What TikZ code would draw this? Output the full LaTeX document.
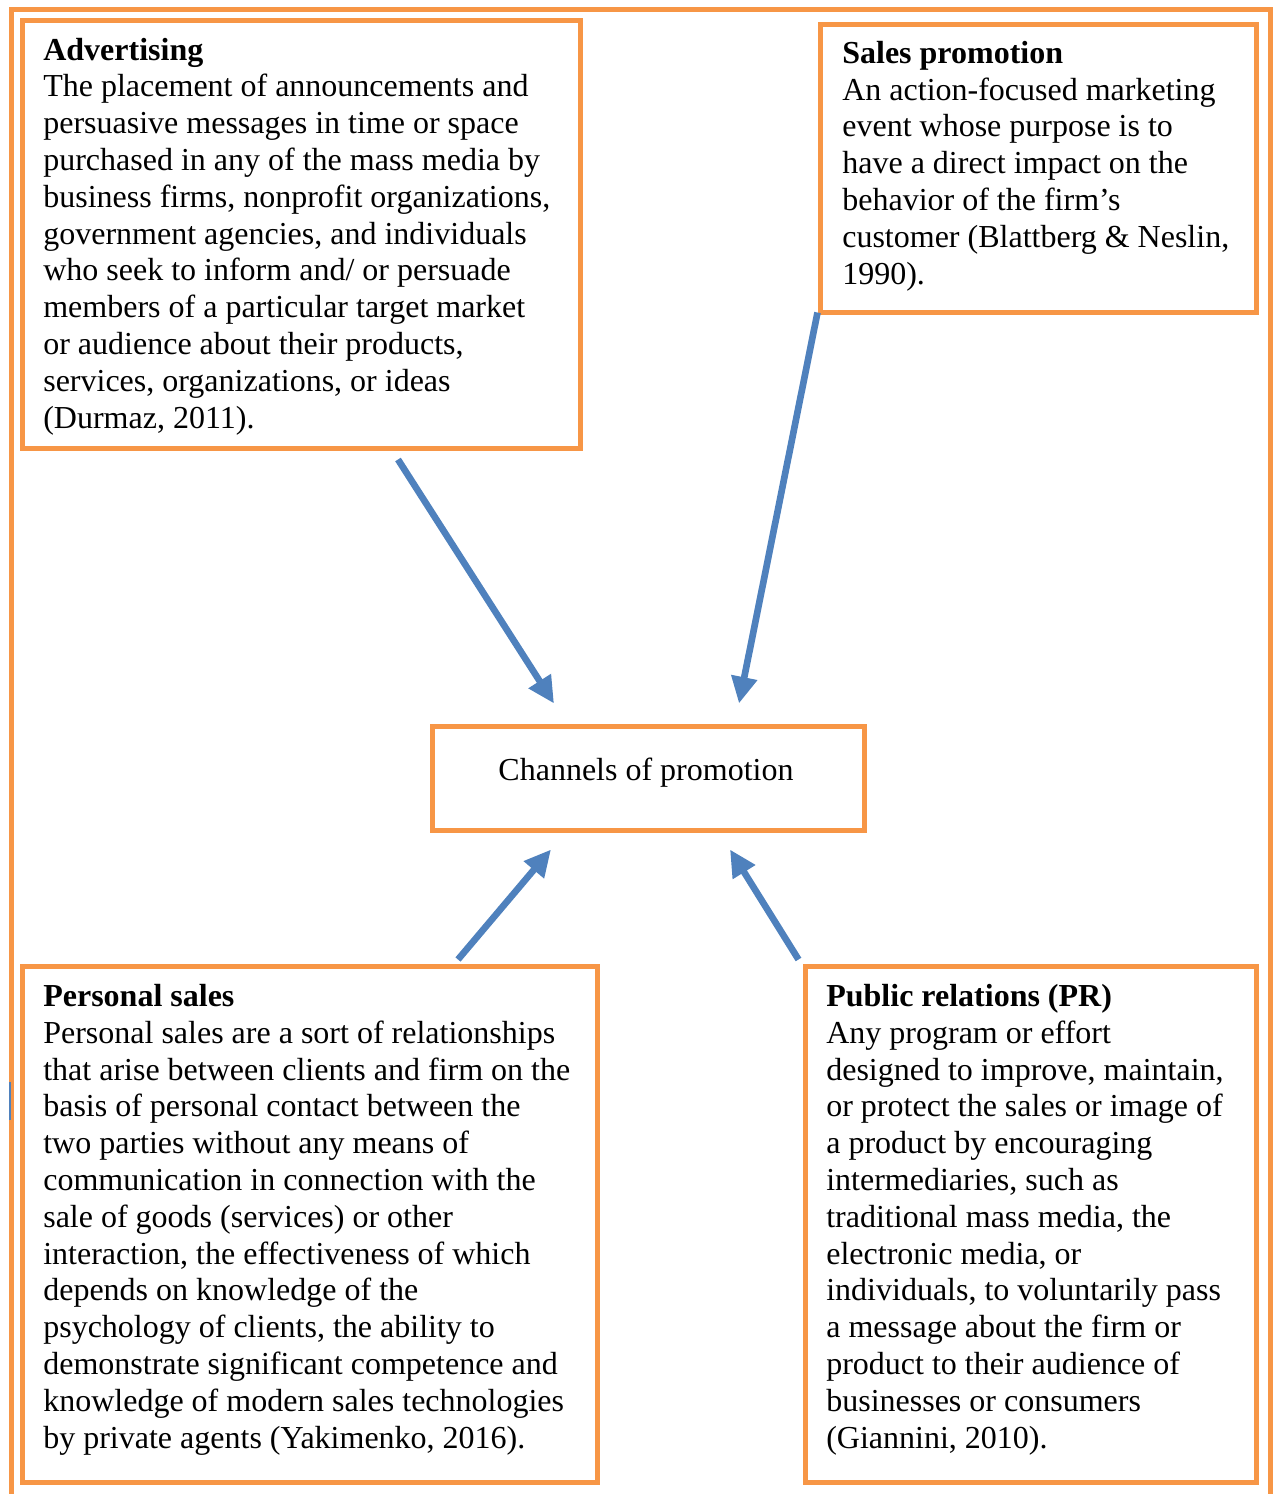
\documentclass[tikz,border=0pt]{standalone}
\usepackage{fontspec}
\setmainfont{Liberation Serif}
\usetikzlibrary{arrows.meta,calc}
\definecolor{boxorange}{HTML}{F79646}
\definecolor{arrowblue}{HTML}{4F81BD}
\newdimen\pxu \pxu=0.6pt
\begin{document}
\begin{tikzpicture}[x=0.6pt,y=-0.6pt,
  box/.style={draw=boxorange,line width=3pt,rectangle,inner sep=0pt,fill=white},
  txt/.style={anchor=base west,align=left,inner sep=0pt,font=\fontsize{19.2}{22.08}\selectfont},
  conn/.style={draw=arrowblue,line width=4pt,-{Triangle[length=16pt,width=15pt]}}]
\useasboundingbox (0,0) rectangle (1275,1494);
% outer frame
\draw[boxorange,line width=3pt] (11,1494) -- (11,9) -- (1270,9) -- (1270,1494);
\draw[arrowblue,line width=1pt] (10,1082) -- (10,1120);
% boxes
\node[box,minimum width=558\pxu,minimum height=428\pxu] (adv) at (301,234) {};
\node[box,minimum width=436\pxu,minimum height=288\pxu] (sp) at (1038,168) {};
\node[box,minimum width=432\pxu,minimum height=104\pxu] (chan) at (648,778) {};
\node[box,minimum width=575\pxu,minimum height=516\pxu] (ps) at (309.5,1224) {};
\node[box,minimum width=451\pxu,minimum height=516\pxu] (pr) at (1030.5,1224) {};
% texts (anchored at the baseline of the last line)
\node[txt] (advtxt) at (43,428) {\textbf{Advertising}\\
The placement of announcements and\\
persuasive messages in time or space\\
purchased in any of the mass media by\\
business firms, nonprofit organizations,\\
government agencies, and individuals\\
who seek to inform and/ or persuade\\
members of a particular target market\\
or audience about their products,\\
services, organizations, or ideas\\
(Durmaz, 2011).};
\node[txt] (sptxt) at (842,284) {\textbf{Sales promotion}\\
An action-focused marketing\\
event whose purpose is to\\
have a direct impact on the\\
behavior of the firm’s\\
customer (Blattberg \& Neslin,\\
1990).};
\node[anchor=base,inner sep=0pt,font=\fontsize{19.2}{22.08}\selectfont] (chantxt) at (646,780) {Channels of promotion};
\node[txt] (pstxt) at (43,1448) {\textbf{Personal sales}\\
Personal sales are a sort of relationships\\
that arise between clients and firm on the\\
basis of personal contact between the\\
two parties without any means of\\
communication in connection with the\\
sale of goods (services) or other\\
interaction, the effectiveness of which\\
depends on knowledge of the\\
psychology of clients, the ability to\\
demonstrate significant competence and\\
knowledge of modern sales technologies\\
by private agents (Yakimenko, 2016).};
\node[txt] (prtxt) at (826,1448) {\textbf{Public relations (PR)}\\
Any program or effort\\
designed to improve, maintain,\\
or protect the sales or image of\\
a product by encouraging\\
intermediaries, such as\\
traditional mass media, the\\
electronic media, or\\
individuals, to voluntarily pass\\
a message about the firm or\\
product to their audience of\\
businesses or consumers\\
(Giannini, 2010).};
% connectors
\draw[conn] ($(adv.south)+(97,9)$) -- ($(chan.north)+(-94,-20)$);
\draw[conn] ($(sp.south west)+(0,-2)$) -- ($(chan.north)+(91,-20)$);
\draw[conn] ($(ps.north)+(148.5,-4)$) -- ($(chan.south)+(-97,17)$);
\draw[conn] ($(pr.north west)+(-4,-4)$) -- ($(chan.south)+(82,17)$);
\end{tikzpicture}
\end{document}
